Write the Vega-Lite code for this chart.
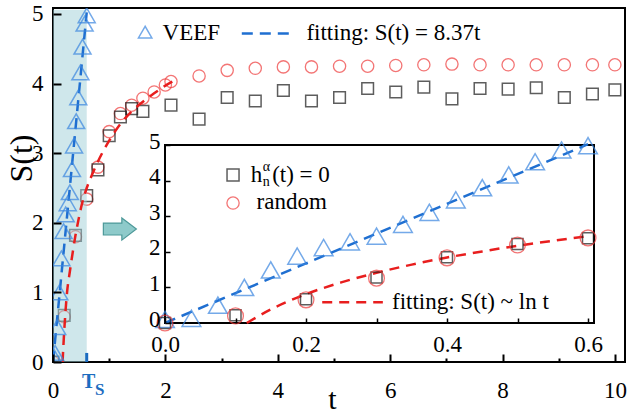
{
  "$schema": "https://vega.github.io/schema/vega-lite/v6.json",
  "width": 572,
  "height": 354,
  "autosize": "none",
  "padding": {"left": 53, "top": 8, "right": 4, "bottom": 52},
  "background": "white",
  "config": {
    "view": {"stroke": "#000", "strokeWidth": 2},
    "font": "Liberation Serif",
    "text": {"font": "Liberation Serif", "color": "#000"}
  },
  "datasets": {
    "veef": [
      {"t": 0, "S": 0.1}, {"t": 0.0375, "S": 0.13}, {"t": 0.075, "S": 0.5},
      {"t": 0.1125, "S": 1.0}, {"t": 0.15, "S": 1.49}, {"t": 0.1875, "S": 1.88},
      {"t": 0.225, "S": 2.12}, {"t": 0.2625, "S": 2.28}, {"t": 0.3, "S": 2.44},
      {"t": 0.3375, "S": 2.77}, {"t": 0.375, "S": 3.11}, {"t": 0.4125, "S": 3.46},
      {"t": 0.45, "S": 3.8}, {"t": 0.4875, "S": 4.16}, {"t": 0.525, "S": 4.53},
      {"t": 0.5625, "S": 4.86}, {"t": 0.6, "S": 4.98}
    ],
    "linFit": [{"t": 0, "S": 0}, {"t": 0.6, "S": 5.022}],
    "randomMain": [
      {"t": 0, "S": 0}, {"t": 0.2, "S": 0.65}, {"t": 0.4, "S": 1.8}, {"t": 0.6, "S": 2.34},
      {"t": 0.8, "S": 2.8}, {"t": 1.0, "S": 3.31}, {"t": 1.2, "S": 3.57}, {"t": 1.4, "S": 3.69},
      {"t": 1.6, "S": 3.79}, {"t": 1.8, "S": 3.88}, {"t": 2.0, "S": 3.98}, {"t": 2.1, "S": 4.03},
      {"t": 2.6, "S": 4.11}, {"t": 3.1, "S": 4.19}, {"t": 3.6, "S": 4.22}, {"t": 4.1, "S": 4.24},
      {"t": 4.6, "S": 4.24}, {"t": 5.1, "S": 4.25}, {"t": 5.6, "S": 4.25}, {"t": 6.1, "S": 4.26},
      {"t": 6.6, "S": 4.27}, {"t": 7.1, "S": 4.28}, {"t": 7.6, "S": 4.27}, {"t": 8.1, "S": 4.27},
      {"t": 8.6, "S": 4.27}, {"t": 9.1, "S": 4.27}, {"t": 9.6, "S": 4.27}, {"t": 10.0, "S": 4.27}
    ],
    "zeroMain": [
      {"t": 0, "S": 0}, {"t": 0.2, "S": 0.67}, {"t": 0.4, "S": 1.82}, {"t": 0.6, "S": 2.39},
      {"t": 0.8, "S": 2.76}, {"t": 1.0, "S": 3.25}, {"t": 1.2, "S": 3.52}, {"t": 1.4, "S": 3.64},
      {"t": 1.6, "S": 3.6}, {"t": 2.1, "S": 3.69}, {"t": 2.6, "S": 3.49}, {"t": 3.1, "S": 3.8},
      {"t": 3.6, "S": 3.75}, {"t": 4.1, "S": 3.9}, {"t": 4.6, "S": 3.75}, {"t": 5.1, "S": 3.8},
      {"t": 5.6, "S": 3.93}, {"t": 6.1, "S": 3.88}, {"t": 6.6, "S": 3.95}, {"t": 7.1, "S": 3.78},
      {"t": 7.6, "S": 3.93}, {"t": 8.1, "S": 3.92}, {"t": 8.6, "S": 3.94}, {"t": 9.1, "S": 3.8},
      {"t": 9.6, "S": 3.85}, {"t": 10.0, "S": 3.91}
    ],
    "lnFitMain": [
      {"t": 0.17, "S": 0}, {"t": 0.2, "S": 0.45}, {"t": 0.25, "S": 1.0}, {"t": 0.3, "S": 1.3},
      {"t": 0.35, "S": 1.57}, {"t": 0.4, "S": 1.82}, {"t": 0.45, "S": 2.03}, {"t": 0.5, "S": 2.22},
      {"t": 0.6, "S": 2.5}, {"t": 0.7, "S": 2.7}, {"t": 0.8, "S": 2.88}, {"t": 1.0, "S": 3.18},
      {"t": 1.2, "S": 3.42}, {"t": 1.4, "S": 3.6}, {"t": 1.6, "S": 3.74}, {"t": 1.8, "S": 3.86},
      {"t": 2.0, "S": 3.97}, {"t": 2.2, "S": 4.06}
    ],
    "randomInset": [
      {"t": 0, "S": 0}, {"t": 0.1, "S": 0.2}, {"t": 0.2, "S": 0.65}, {"t": 0.3, "S": 1.26},
      {"t": 0.4, "S": 1.83}, {"t": 0.5, "S": 2.19}, {"t": 0.6, "S": 2.39}
    ],
    "zeroInset": [
      {"t": 0, "S": 0}, {"t": 0.1, "S": 0.22}, {"t": 0.2, "S": 0.67}, {"t": 0.3, "S": 1.28},
      {"t": 0.4, "S": 1.85}, {"t": 0.5, "S": 2.22}, {"t": 0.6, "S": 2.38}
    ],
    "lnFitInset": [
      {"t": 0.116, "S": 0}, {"t": 0.15, "S": 0.38}, {"t": 0.2, "S": 0.81}, {"t": 0.25, "S": 1.14},
      {"t": 0.3, "S": 1.41}, {"t": 0.35, "S": 1.64}, {"t": 0.4, "S": 1.84}, {"t": 0.45, "S": 2.01},
      {"t": 0.5, "S": 2.17}, {"t": 0.55, "S": 2.31}, {"t": 0.6, "S": 2.44}
    ],
    "one": [{}]
  },
  "layer": [
    {
      "layer": [
        {
          "data": {"name": "randomMain"},
          "mark": {"type": "point", "shape": "circle", "filled": false, "size": 150, "color": "#ef3b3b", "strokeWidth": 1.3, "clip": true},
          "encoding": {
            "x": {
              "field": "t", "type": "quantitative",
              "scale": {"domain": [0, 10.18], "nice": false, "zero": false},
              "axis": {
                "orient": "bottom", "values": [0, 1, 2, 3, 4, 5, 6, 7, 8, 9, 10],
                "labelExpr": "datum.value % 2 === 0 ? format(datum.value, 'd') : ''",
                "domain": false, "grid": false, "zindex": 1,
                "tickColor": "#000", "tickWidth": 2,
                "tickSize": {"condition": {"test": "datum.value % 2 === 0", "value": -8}, "value": -4},
                "labelPadding": 25, "labelFontSize": 23, "labelFont": "Liberation Serif", "labelColor": "#000",
                "labelFlush": false, "labelOverlap": false,
                "title": "t", "titleFont": "Liberation Serif", "titleFontSize": 30, "titleFontWeight": "normal", "titleColor": "#000",
                "titleX": 279, "titleY": 46, "titleBaseline": "alphabetic", "titleAlign": "center"
              }
            },
            "y": {
              "field": "S", "type": "quantitative",
              "scale": {"domain": [0, 5.086], "nice": false, "zero": false},
              "axis": {
                "orient": "left", "values": [0, 0.5, 1, 1.5, 2, 2.5, 3, 3.5, 4, 4.5, 5],
                "labelExpr": "datum.value % 1 === 0 ? format(datum.value, 'd') : ''",
                "domain": false, "grid": false, "zindex": 1,
                "tickColor": "#000", "tickWidth": 2,
                "tickSize": {"condition": {"test": "datum.value % 1 === 0", "value": -8}, "value": -4},
                "labelPadding": 18, "labelFontSize": 23, "labelFont": "Liberation Serif", "labelColor": "#000",
                "labelFlush": false, "labelOverlap": false,
                "title": "S(t)", "titleFont": "Liberation Serif", "titleFontSize": 32, "titleFontWeight": "normal", "titleColor": "#000",
                "titleAngle": -90, "titleX": -22, "titleY": 150, "titleBaseline": "alphabetic", "titleAlign": "center"
              }
            }
          }
        },
        {
          "data": {"name": "zeroMain"},
          "mark": {"type": "point", "shape": "square", "filled": false, "size": 135, "color": "#1a1a1a", "strokeWidth": 1.5, "clip": true},
          "encoding": {
            "x": {"field": "t", "type": "quantitative"},
            "y": {"field": "S", "type": "quantitative"}
          }
        },
        {
          "data": {"name": "one"},
          "mark": {"type": "rect", "color": "#9fd0d8", "opacity": 0.5},
          "encoding": {
            "x": {"datum": 0, "type": "quantitative"},
            "x2": {"datum": 0.6},
            "y": {"datum": 0, "type": "quantitative"},
            "y2": {"datum": 5.06}
          }
        },
        {
          "data": {"name": "lnFitMain"},
          "mark": {"type": "line", "color": "#e81e1e", "strokeWidth": 2.5, "strokeDash": [10, 7], "interpolate": "monotone", "clip": true},
          "encoding": {
            "x": {"field": "t", "type": "quantitative"},
            "y": {"field": "S", "type": "quantitative"}
          }
        },
        {
          "data": {"name": "linFit"},
          "mark": {"type": "line", "color": "#1f6fd1", "strokeWidth": 2.5, "strokeDash": [11, 7], "clip": true},
          "encoding": {
            "x": {"field": "t", "type": "quantitative"},
            "y": {"field": "S", "type": "quantitative"}
          }
        },
        {
          "data": {"name": "veef"},
          "mark": {"type": "point", "shape": "triangle-up", "filled": false, "size": 289, "color": "#3a86e0", "strokeWidth": 1.5, "clip": true},
          "encoding": {
            "x": {"field": "t", "type": "quantitative"},
            "y": {"field": "S", "type": "quantitative"}
          }
        },
        {
          "data": {"name": "one"},
          "mark": {"type": "rule", "color": "#1c6cc0", "strokeWidth": 3},
          "encoding": {
            "x": {"datum": 0.6, "type": "quantitative"},
            "y": {"datum": 0, "type": "quantitative"},
            "y2": {"datum": 0.13}
          }
        },
        {
          "data": {"name": "one"},
          "mark": {"type": "text", "text": "T", "font": "Liberation Serif", "fontSize": 20, "fontWeight": "bold", "color": "#1c6cc0", "align": "center", "baseline": "alphabetic", "dx": 2, "dy": 26},
          "encoding": {
            "x": {"datum": 0.6, "type": "quantitative"},
            "y": {"datum": 0, "type": "quantitative"}
          }
        },
        {
          "data": {"name": "one"},
          "mark": {"type": "text", "text": "S", "font": "Liberation Serif", "fontSize": 17, "fontWeight": "bold", "color": "#1c6cc0", "align": "center", "baseline": "alphabetic", "dx": 13, "dy": 33},
          "encoding": {
            "x": {"datum": 0.6, "type": "quantitative"},
            "y": {"datum": 0, "type": "quantitative"}
          }
        },
        {
          "data": {"name": "one"},
          "mark": {"type": "point", "shape": "M -1 -0.36 L 0.12 -0.36 L 0.12 -0.67 L 1 0 L 0.12 0.67 L 0.12 0.36 L -1 0.36 Z", "size": 1089, "filled": true, "fill": "#8ecaca", "stroke": "#4d9999", "strokeWidth": 1.2, "opacity": 1},
          "encoding": {
            "x": {"datum": 1.19, "type": "quantitative"},
            "y": {"datum": 1.91, "type": "quantitative"}
          }
        },
        {
          "data": {"name": "one"},
          "mark": {"type": "point", "shape": "triangle-up", "filled": false, "size": 180, "color": "#3a86e0", "strokeWidth": 1.5},
          "encoding": {
            "x": {"datum": 1.64, "type": "quantitative"},
            "y": {"datum": 4.74, "type": "quantitative"}
          }
        },
        {
          "data": {"name": "one"},
          "mark": {"type": "text", "text": "VEEF", "font": "Liberation Serif", "fontSize": 23, "align": "left", "baseline": "middle"},
          "encoding": {
            "x": {"datum": 1.95, "type": "quantitative"},
            "y": {"datum": 4.72, "type": "quantitative"}
          }
        },
        {
          "data": {"name": "one"},
          "mark": {"type": "rule", "color": "#1f6fd1", "strokeWidth": 2.5, "strokeDash": [11, 7]},
          "encoding": {
            "x": {"datum": 3.36, "type": "quantitative"},
            "x2": {"datum": 4.31},
            "y": {"datum": 4.72, "type": "quantitative"}
          }
        },
        {
          "data": {"name": "one"},
          "mark": {"type": "text", "text": "fitting: S(t) = 8.37t", "font": "Liberation Serif", "fontSize": 23, "align": "left", "baseline": "middle"},
          "encoding": {
            "x": {"datum": 4.51, "type": "quantitative"},
            "y": {"datum": 4.72, "type": "quantitative"}
          }
        }
      ]
    },
    {
      "layer": [
        {
          "data": {"name": "one"},
          "mark": {"type": "rect", "fill": "white", "stroke": "#000", "strokeWidth": 2},
          "encoding": {
            "x": {
              "datum": 0, "type": "quantitative",
              "scale": {"domain": [0, 0.6085], "range": [112, 541], "nice": false, "zero": false},
              "axis": {
                "orient": "bottom", "offset": -39, "values": [0, 0.1, 0.2, 0.3, 0.4, 0.5, 0.6],
                "labelExpr": "round(datum.value * 10) % 2 === 0 ? format(datum.value, '.1f') : ''",
                "domain": false, "grid": false, "zindex": 1,
                "tickColor": "#000", "tickWidth": 1.5, "tickSize": -5,
                "labelPadding": 15, "labelFontSize": 23, "labelFont": "Liberation Serif", "labelColor": "#000",
                "labelFlush": false, "labelOverlap": false, "title": null
              }
            },
            "x2": {"datum": 0.6085},
            "y": {
              "datum": 0, "type": "quantitative",
              "scale": {"domain": [0, 5], "range": [315, 137], "nice": false, "zero": false},
              "axis": {
                "orient": "left", "offset": -112, "values": [0, 1, 2, 3, 4, 5],
                "labelExpr": "format(datum.value, 'd')",
                "domain": false, "grid": false, "zindex": 1,
                "tickColor": "#000", "tickWidth": 1.5, "tickSize": -5,
                "labelPadding": 10, "labelOffset": -4, "labelFontSize": 23, "labelFont": "Liberation Serif", "labelColor": "#000",
                "labelFlush": false, "labelOverlap": false, "title": null
              }
            },
            "y2": {"datum": 5}
          }
        },
        {
          "data": {"name": "linFit"},
          "mark": {"type": "line", "color": "#1f6fd1", "strokeWidth": 2.5, "strokeDash": [11, 7]},
          "encoding": {
            "x": {"field": "t", "type": "quantitative"},
            "y": {"field": "S", "type": "quantitative"}
          }
        },
        {
          "data": {"name": "lnFitInset"},
          "mark": {"type": "line", "color": "#e81e1e", "strokeWidth": 2.5, "strokeDash": [10, 7], "interpolate": "monotone"},
          "encoding": {
            "x": {"field": "t", "type": "quantitative"},
            "y": {"field": "S", "type": "quantitative"}
          }
        },
        {
          "data": {"name": "veef"},
          "mark": {"type": "point", "shape": "triangle-up", "filled": false, "size": 350, "color": "#3a86e0", "strokeWidth": 1.5},
          "encoding": {
            "x": {"field": "t", "type": "quantitative"},
            "y": {"field": "S", "type": "quantitative"}
          }
        },
        {
          "data": {"name": "zeroInset"},
          "mark": {"type": "point", "shape": "square", "filled": false, "size": 121, "color": "#1a1a1a", "strokeWidth": 1.5},
          "encoding": {
            "x": {"field": "t", "type": "quantitative"},
            "y": {"field": "S", "type": "quantitative"}
          }
        },
        {
          "data": {"name": "randomInset"},
          "mark": {"type": "point", "shape": "circle", "filled": false, "size": 250, "color": "#ef3b3b", "strokeWidth": 1.3},
          "encoding": {
            "x": {"field": "t", "type": "quantitative"},
            "y": {"field": "S", "type": "quantitative"}
          }
        },
        {
          "data": {"name": "one"},
          "mark": {"type": "point", "shape": "square", "filled": false, "size": 144, "color": "#1a1a1a", "strokeWidth": 1.5},
          "encoding": {
            "x": {"datum": 0.0965, "type": "quantitative"},
            "y": {"datum": 4.16, "type": "quantitative"}
          }
        },
        {
          "data": {"name": "one"},
          "mark": {"type": "point", "shape": "circle", "filled": false, "size": 150, "color": "#ef3b3b", "strokeWidth": 1.3},
          "encoding": {
            "x": {"datum": 0.0965, "type": "quantitative"},
            "y": {"datum": 3.37, "type": "quantitative"}
          }
        },
        {
          "data": {"name": "one"},
          "mark": {"type": "text", "text": "h", "font": "Liberation Serif", "fontSize": 23, "align": "left", "baseline": "middle"},
          "encoding": {
            "x": {"datum": 0.1215, "type": "quantitative"},
            "y": {"datum": 4.16, "type": "quantitative"}
          }
        },
        {
          "data": {"name": "one"},
          "mark": {"type": "text", "text": "α", "font": "Liberation Serif", "fontSize": 14, "align": "left", "baseline": "middle", "dy": -8},
          "encoding": {
            "x": {"datum": 0.1385, "type": "quantitative"},
            "y": {"datum": 4.16, "type": "quantitative"}
          }
        },
        {
          "data": {"name": "one"},
          "mark": {"type": "text", "text": "n", "font": "Liberation Serif", "fontSize": 14, "align": "left", "baseline": "middle", "dy": 7},
          "encoding": {
            "x": {"datum": 0.1385, "type": "quantitative"},
            "y": {"datum": 4.16, "type": "quantitative"}
          }
        },
        {
          "data": {"name": "one"},
          "mark": {"type": "text", "text": "(t) = 0", "font": "Liberation Serif", "fontSize": 23, "align": "left", "baseline": "middle"},
          "encoding": {
            "x": {"datum": 0.152, "type": "quantitative"},
            "y": {"datum": 4.16, "type": "quantitative"}
          }
        },
        {
          "data": {"name": "one"},
          "mark": {"type": "text", "text": "random", "font": "Liberation Serif", "fontSize": 23, "align": "left", "baseline": "middle"},
          "encoding": {
            "x": {"datum": 0.1298, "type": "quantitative"},
            "y": {"datum": 3.4, "type": "quantitative"}
          }
        },
        {
          "data": {"name": "one"},
          "mark": {"type": "rule", "color": "#e81e1e", "strokeWidth": 2.5, "strokeDash": [10, 7]},
          "encoding": {
            "x": {"datum": 0.223, "type": "quantitative"},
            "x2": {"datum": 0.309},
            "y": {"datum": 0.58, "type": "quantitative"}
          }
        },
        {
          "data": {"name": "one"},
          "mark": {"type": "text", "text": "fitting: S(t) ~ ln t", "font": "Liberation Serif", "fontSize": 23, "align": "left", "baseline": "middle"},
          "encoding": {
            "x": {"datum": 0.322, "type": "quantitative"},
            "y": {"datum": 0.58, "type": "quantitative"}
          }
        }
      ]
    }
  ],
  "resolve": {"scale": {"x": "independent", "y": "independent"}, "axis": {"x": "independent", "y": "independent"}}
}
